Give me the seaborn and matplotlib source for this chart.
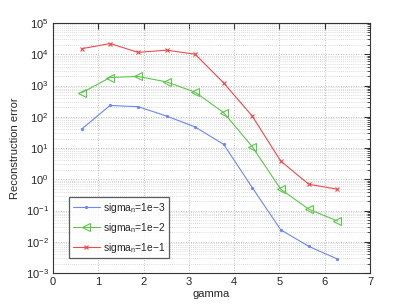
import numpy as np
import pandas as pd
import matplotlib
matplotlib.use("Agg")
import matplotlib.pyplot as plt
import seaborn as sns
from matplotlib.ticker import LogLocator, NullFormatter, FixedLocator

gamma = [0.63, 1.26, 1.88, 2.51, 3.14, 3.77, 4.40, 5.03, 5.65, 6.28]
err_1e3 = [40, 230, 210, 105, 47, 13, 0.54, 0.024, 0.0071, 0.0028]
err_1e2 = [580, 1800, 1950, 1300, 610, 135, 11, 0.48, 0.11, 0.046]
err_1e1 = [15000, 22000, 11500, 13500, 10000, 1200, 105, 3.8, 0.69, 0.48]
labels = [r"sigma$_{\mathregular{n}}$=1e$-$3", r"sigma$_{\mathregular{n}}$=1e$-$2", r"sigma$_{\mathregular{n}}$=1e$-$1"]
colors = ["#6f86f4", "#5cc64a", "#f0494c"]
markers = [".", "<", "x"]
xticks = [0, 1, 2, 3, 4, 5, 6, 7]

sns.set_style("white")
plt.rcParams["font.family"] = ["Liberation Sans", "DejaVu Sans"]
plt.rcParams["mathtext.fontset"] = "custom"
plt.rcParams["mathtext.rm"] = "Liberation Sans"
plt.rcParams["mathtext.it"] = "Liberation Sans"

df = pd.DataFrame({
    "gamma": gamma * 3,
    "err": err_1e3 + err_1e2 + err_1e1,
    "series": [labels[0]] * 10 + [labels[1]] * 10 + [labels[2]] * 10,
})

fig = plt.figure(figsize=(4.09, 3.08), dpi=100)
ax = fig.add_axes([53 / 409, 1 - 273 / 308, 317 / 409, 250 / 308])

sizes = {".": 3, "<": 5.5, "x": 3.5}
for lab, c, m in zip(labels, colors, markers):
    sub = df[df["series"] == lab]
    sns.lineplot(data=sub, x="gamma", y="err", ax=ax, color=c, marker=m,
                 markersize=sizes[m], markerfacecolor="none" if m == "<" else c,
                 markeredgecolor=c, linewidth=0.8, label=lab, markeredgewidth=0.8)

ax.set_yscale("log")
ax.set_xlim(0, 7)
ax.set_ylim(1e-3, 1e5)
ax.xaxis.set_major_locator(FixedLocator(xticks))
ax.yaxis.set_major_locator(LogLocator(base=10, numticks=20))
ax.yaxis.set_minor_locator(LogLocator(base=10, subs=np.arange(2, 10), numticks=100))
ax.yaxis.set_minor_formatter(NullFormatter())

ax.grid(True, which="major", axis="both", linestyle=(0, (1, 2)), color="#aaaaaa", linewidth=0.6)
ax.grid(True, which="minor", axis="y", linestyle=(0, (1, 2)), color="#bbbbbb", linewidth=0.5)
ax.set_axisbelow(True)

for s in ax.spines.values():
    s.set_color("#333333")
    s.set_linewidth(0.8)
ax.tick_params(which="both", direction="in", top=True, right=True, labelsize=8, color="#333333")
ax.tick_params(which="major", length=4, pad=3)
ax.tick_params(which="minor", length=2)

ax.set_xlabel("gamma", fontsize=8, labelpad=1)
ax.set_ylabel("Reconstruction error", fontsize=8, labelpad=4)

leg = ax.legend(loc="lower left", bbox_to_anchor=(0.045, 0.05), fontsize=7.4,
                frameon=True, fancybox=False, edgecolor="#333333",
                handlelength=2.6, labelspacing=0.6, borderpad=0.35,
                handletextpad=0.35, borderaxespad=0.2)
leg.get_frame().set_linewidth(0.9)

fig.savefig("out.png", dpi=100)
